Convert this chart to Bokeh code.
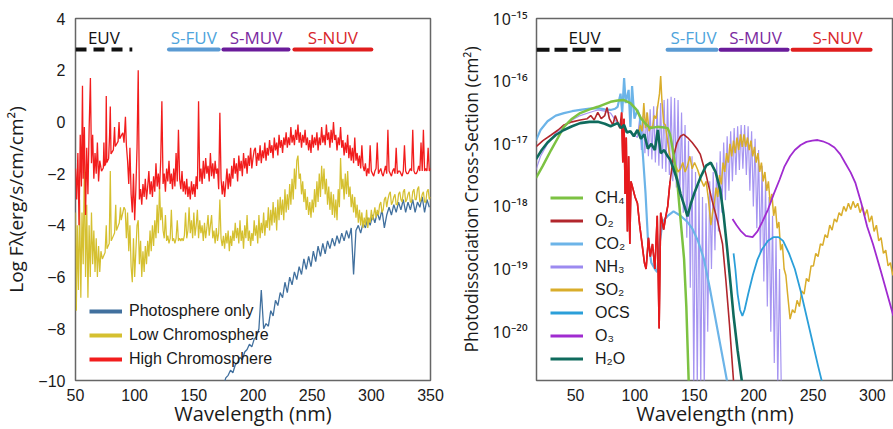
import numpy as np
from bokeh.plotting import figure
from bokeh.models import (Range1d, FixedTicker, CustomJSTickFormatter, Legend, LegendItem)
from bokeh.layouts import row
from bokeh.embed import file_html
from bokeh.resources import INLINE
from bokeh.core.properties import value

# ------------------------------------------------------------------ data
left_xticks = [50, 100, 150, 200, 250, 300, 350]
left_yticks = [-10, -8, -6, -4, -2, 0, 2, 4]
right_xticks = [50, 100, 150, 200, 250, 300]
right_ydecades = [-20, -19, -18, -17, -16, -15]

band_names = ["EUV", "S-FUV", "S-MUV", "S-NUV"]
left_band_lo = [50, 129, 175, 235]
left_band_hi = [98, 171, 230, 300]
left_band_label_x = [74, 150, 202.5, 267.5]
right_band_lo = [17.1, 127.5, 172.2, 232.8]
right_band_hi = [88, 168.8, 228.6, 298.5]
right_band_label_x = [57.6, 149.4, 201.6, 270.7]

# High Chromosphere (log flux)
red_x_a = [50, 51, 52, 53, 54, 55, 55.9, 56.5, 57.5, 58.5, 59.5, 60.5, 61.5, 62.6, 63.5, 64.5,
           65.5, 66.5, 67.5, 68.5, 69.5, 70.5, 72, 73.5, 74, 74.5, 75.5, 76, 76.5, 78, 78.8,
           79.4, 80, 82, 83, 83.6, 86, 86.8, 87.4, 89, 90, 91, 92.2, 93, 94, 95, 96, 97, 98,
           99, 100, 101, 102, 103, 104]
red_y_a = [-1.8, -3.0, -1.2, -4.0, -0.5, -2.5, 1.4, -2.2, -0.2, -3.6, -1.0, -2.8, -0.3, 1.7, -1.6, -0.5,
           -2.2, -1.2, -2.0, -0.8, -2.3, -1.5, -1.9, -1.78, -0.8, -1.7, -1.62, 1.0, -1.57, -1.41, -0.5,
           0.6, -1.24, -1.08, -0.2, -0.95, -0.75, 0.0, -0.65, -0.5, -0.42, -0.8, 0.2, -0.9, -1.5, -2.4, -1.0, -2.8, -3.5,
           -2.0, -3.8, -2.6, -1.0, 2.0, -3.0]
red_y_b = [  # 105 .. 350 nm, 1 nm steps
    -2.6, -3.2, -2.4, -2.9, -2.2, -3.0, -2.5, -1.9, -2.8, -2.3,
    -2.9, -2.1, -2.7, -1.6, -2.5, -2.0, -2.6, -1.5, 0.8, -2.4,
    -2.0, -2.7, -1.8, -2.3, -1.5, -2.4, -2.0, -2.6, -1.8, -2.5,
    -1.2, -2.3, -0.3, -2.2, -2.6, -1.9, -2.7, -2.3, -2.8, -2.2,
    -2.9, -2.5, -3.0, -2.3, -2.8, -2.4, -2.9, -2.1, -2.6, 0.8,
    -2.3, -1.8, -2.4, -1.5, -2.2, -1.4, -2.0, -1.7, -2.3, -1.2,
    -2.1, -1.6, -2.2, -1.5, -2.0, -1.8, -2.6, 0.35, -2.2, -2.8,
    -2.3, -2.9, -2.4, -1.8, -2.6, -2.0, -2.5, -1.7, -2.2, -1.4,
    -2.0, -1.6, -2.3, -1.3, -1.9, -1.5, -2.1, -1.2, -1.8, -1.4,
    -2.0, -1.3, -1.7, -1.0, -1.8, -1.4, -1.1, -1.0, -1.7, -1.2,
    -1.5, -0.9, -1.6, -1.1, -1.4, -0.8, -1.5, -1.0, -1.3, -0.7,
    -1.2, -0.9, -1.4, -0.6, -1.1, -0.8, -1.3, -0.5, -1.0, -0.7,
    -1.2, -0.6, -0.9, -0.4, -1.0, -0.6, -0.9, -0.2, -0.8, -0.5,
    -0.9, -0.3, -0.7, -0.1, -0.8, -0.4, -1.0, -0.5, -0.8, -0.3,
    -0.9, -0.6, -1.1, -0.7, -1.2, -0.5, -1.0, -0.6, -0.9, -0.4,
    -1.1, -0.6, -0.9, -0.2, -0.8, -0.5, -0.9, -0.1, -0.7, -0.4,
    -1.0, -0.3, -0.8, 0.0, -0.7, -0.5, -1.1, -0.6, -0.9, -0.2,
    -1.0, -0.7, -1.3, -0.8, -1.2, -0.5, -1.4, -0.9, -1.5, -1.0,
    -1.6, -0.6, -1.5, -1.2, -1.7, -1.3, -1.8, -0.9, -1.7, -1.9,
    -1.6, -2.1, -1.8, -2.0, -0.9, -1.9, -2.0, -2.1, -1.9, -1.8,
    -0.8, -2.0, -1.9, -1.8, -2.0, -2.1, -1.9, -1.7, -2.0, -0.3,
    -1.9, -2.0, -2.1, -1.9, -1.8, -2.0, -1.0, -2.0, -1.9, -1.9,
    -2.0, -2.1, -1.9, -0.9, -1.9, -2.0, -2.0, -1.9, -1.8, -1.9,
    -0.3, -1.9, -2.0, -2.0, -1.9, -1.7, -1.9, -0.8, -1.9, -0.3,
    -1.9, -1.8, -1.9, -1.0, -1.9, -1.8]

# Low Chromosphere
yel_x_a = [50, 50.7, 51.5, 52.5, 53.5, 54.5, 55.5, 56.5, 57.5, 58.5, 59.5, 60.5, 61.5, 62.5,
           63.5, 64.5, 65.5, 66.5, 67.5, 68.5, 69.5, 70.5, 71.5, 72.7, 75, 76, 76.6, 78.5, 79.4,
           80.2, 83, 84, 84.6, 87, 88, 88.6, 91, 92]
yel_y_a = [-3.5, -7.3, -4.0, -6.5, -3.0, -6.8, -3.5, -5.5, -1.5, -6.0, -3.2, -6.8, -4.0, -6.0,
           -3.5, -5.5, -4.2, -5.8, -4.5, -6.0, -4.8, -5.8, -5.0, -5.3, -5.05, -4.0, -4.9, -4.7, -1.9,
           -4.6, -4.3, -3.2, -4.2, -3.9, -3.3, -3.8, -3.3, -3.4]
yel_y_b = [  # 93 .. 350 nm, 1 nm steps
    -4.5, -3.5, -5.0, -4.0, -5.6, -6.2, -4.5, -6.0, -5.0, -4.0,
    -3.8, -5.5, -4.6, -6.0, -5.0, -5.8, -4.8, -5.5, -4.6, -5.2,
    -4.2, -5.0, -4.0, -4.8, -3.8, -4.5, -3.2, -4.3, -2.5, -3.8,
    -3.3, -4.2, -4.5, -3.6, -4.6, -4.4, -4.7, -4.5, -3.4, -4.6,
    -4.5, -4.7, -4.5, -3.8, -4.6, -4.5, -4.6, -4.5, -4.6, -4.4,
    -3.5, -4.5, -4.2, -3.3, -4.3, -3.8, -4.5, -3.5, -4.4, -4.0,
    -3.4, -4.5, -3.8, -4.3, -4.0, -4.6, -3.9, -4.5, -4.1, -3.6,
    -4.4, -4.0, -3.6, -4.5, -4.2, -4.7, -4.1, -4.6, -4.3, -3.0,
    -4.5, -4.8, -4.4, -4.9, -4.3, -4.7, -4.2, -5.0, -4.4, -4.8,
    -4.2, -4.6, -3.9, -4.5, -4.1, -4.7, -3.8, -4.6, -4.2, -4.9,
    -4.0, -4.5, -3.6, -4.6, -4.2, -4.8, -4.3, -4.6, -3.8, -4.4,
    -4.0, -4.7, -3.6, -4.5, -3.9, -4.3, -3.5, -4.4, -3.8, -4.1,
    -3.3, -4.2, -3.4, -4.0, -3.1, -3.9, -3.3, -4.2, -3.0, -3.8,
    -2.9, -3.6, -3.0, -3.8, -2.6, -3.5, -2.8, -3.4, -2.4, -3.2,
    -2.2, -3.0, -1.8, -2.6, -1.5, -1.3, -2.2, -2.0, -2.8, -2.3,
    -3.1, -2.6, -3.4, -2.9, -3.6, -3.1, -3.7, -3.0, -3.5, -2.6,
    -3.3, -2.3, -3.1, -2.0, -2.9, -1.7, -2.6, -1.8, -2.8, -2.2,
    -3.2, -2.5, -3.4, -2.7, -3.6, -2.8, -3.7, -3.0, -3.8, -2.6,
    -3.3, -1.4, -2.6, -2.2, -3.0, -2.0, -2.8, -1.9, -2.9, -2.5,
    -3.3, -2.8, -3.5, -2.9, -3.7, -3.2, -3.9, -3.4, -4.0, -3.5,
    -4.1, -3.7, -4.0, -3.4, -4.1, -3.7, -3.9, -3.4, -3.8, -3.6,
    -3.3, -3.7, -3.4, -3.6, -3.2, -3.1, -3.5, -3.4, -3.0, -2.9,
    -3.3, -3.0, -2.8, -2.7, -3.2, -3.1, -2.9, -2.8, -3.2, -3.2,
    -2.8, -2.7, -3.0, -3.1, -2.7, -2.6, -3.1, -3.0, -2.8, -2.7,
    -3.1, -3.1, -2.7, -2.6, -3.0, -3.0, -2.6, -2.5, -3.1, -3.0,
    -2.8, -2.7, -3.1, -3.1, -2.7, -2.6, -3.0, -2.9]

# Photosphere only (175 .. 349 nm, 2 nm steps)
blue_y = [
    -10.2, -9.9, -9.8, -9.6, -9.7, -9.4, -9.3, -9.1, -9.2, -8.9,
    -8.8, -8.6, -8.7, -8.4, -8.3, -8.0, -6.5, -8.0, -7.8, -7.9,
    -7.3, -7.5, -6.9, -7.1, -6.6, -6.8, -6.2, -6.6, -6.0, -6.3,
    -5.8, -6.1, -5.6, -5.9, -5.3, -5.7, -5.2, -5.6, -5.0, -5.4,
    -4.8, -5.2, -4.7, -5.1, -4.6, -4.9, -4.5, -4.8, -4.4, -4.7,
    -4.3, -4.6, -4.2, -4.5, -4.1, -5.9, -4.2, -4.0, -4.3, -3.9,
    -4.1, -3.7, -4.0, -3.6, -3.9, -3.5, -3.8, -3.4, -4.1, -3.6,
    -3.3, -3.6, -3.2, -3.5, -3.1, -3.4, -3.0, -3.5, -3.1, -3.4,
    -3.0, -3.5, -3.1, -3.3, -2.9, -3.5, -3.0, -3.3]

# ---- cross sections (wavelength nm, log10 cm^2)
ch4_x = [16.6, 22.5, 29.4, 35.3, 40.2, 47.05, 53.9, 61.8, 68.7, 79.5, 85.4, 90.3, 96.2, 101.1,
         105.0, 108.9, 112.9, 118.8, 124.7, 127.6, 129.6, 131.5, 133.5, 135.5, 138.4, 141.4, 143.3,
         145.3, 146.8]
ch4_y = [-17.55, -17.35, -17.1, -16.9, -16.73, -16.6, -16.51, -16.45, -16.41, -16.33, -16.31, -16.30,
         -16.35, -16.45, -16.59, -16.68, -16.75, -16.73, -16.74, -16.75, -16.85, -17.05, -17.3, -17.57,
         -18.2, -18.84, -19.6, -20.8, -21.5]
o2_x = [16.6, 22.5, 29.4, 35.3, 40.2, 47.05, 53.9, 59.8, 62.8, 65.7, 68.7, 71.6, 74.6, 76.5, 78.5,
        81.4, 83.4, 85.4, 87.3, 88.8, 89.8, 90.8, 91.75, 92.7, 93.7, 94.7, 95.7, 96.7, 98.1, 100.1,
        102.1, 104.0, 106.0, 108.0, 109.4, 111.4, 112.9, 114.8, 116.8, 118.8, 120.4, 121.7, 124.2,
        125.6, 127.6, 129.6, 132.5, 135.5, 138.4, 141.0, 144.3, 148.2, 152.2, 155.1, 160.0, 164.9,
        169.8, 173.8, 176.7, 179.7, 183.1, 185.1]
o2_y = [-17.05, -16.95, -16.86, -16.78, -16.7, -16.65, -16.62, -16.6, -16.55, -16.62, -16.5, -16.6,
        -16.55, -16.42, -16.6, -16.7, -16.55, -16.65, -16.75, -16.5, -17.3, -16.6, -17.8, -16.9, -18.4,
        -17.2, -18.6, -17.6, -17.7, -17.85, -17.95, -18.3, -18.6, -18.9, -19.0, -18.5, -18.8, -18.6,
        -19.0, -18.15, -19.95, -18.1, -18.37, -18.2, -18.0, -17.6, -17.2, -16.98, -16.88, -16.85,
        -16.9, -16.98, -17.08, -17.17, -17.5, -17.9, -18.25, -18.6, -19.2, -19.9, -20.8, -21.3]
o2_bright_range = [88.8, 129.6]
co2_x = [16.6, 20.5, 26.4, 33.3, 40.2, 47.05, 53.9, 61.8, 68.7, 74.6, 79.5, 83.4, 85.4, 87.9, 89.3,
         90.9, 92.2, 94.7, 96.2, 97.6, 99.6, 102.1, 104.0, 106.0, 108.9, 110.9, 113.8, 116.8, 118.8,
         120.7, 123.3, 127.6, 132.5, 138.4, 144.3, 148.2, 153.1, 158.1, 163.0, 167.9, 172.8, 177.7,
         179.7]
co2_y = [-16.95, -16.78, -16.64, -16.55, -16.51, -16.48, -16.46, -16.44, -16.43, -16.45, -16.46, -16.44,
         -16.41, -16.2, -16.5, -15.95, -16.35, -16.14, -16.73, -16.08, -16.6, -16.46, -16.55, -16.98,
         -17.78, -18.5, -18.9, -19.0, -19.05, -18.6, -18.25, -18.15, -18.08, -18.15, -18.25, -18.35,
         -18.55, -18.84, -19.3, -19.8, -20.3, -20.8, -21.0]
nh3_x_smooth = [16.6, 20.5, 26.4, 33.3, 40.2, 47.05, 53.9, 61.8, 68.7, 74.6, 79.5, 84.4, 89.3, 94.2,
                99.1, 102.1]
nh3_y_smooth = [-17.42, -17.2, -17.0, -16.83, -16.73, -16.62, -16.55, -16.5, -16.46, -16.48, -16.51,
                -16.65, -16.75, -16.8, -16.85, -16.9]
nh3_y_band1 = [  # from 104 nm, 1.47 nm steps
    -16.6, -17.1, -16.55, -17.15, -16.5, -17.2, -16.45, -17.25, -16.4, -17.3,
    -16.4, -17.35, -16.35, -17.4, -16.3, -17.45, -16.28, -17.5, -16.25, -17.6,
    -16.27, -17.7, -16.3, -17.85, -16.5, -18.1, -16.7, -18.5, -16.95, -19.3,
    -17.2, -20.9, -17.45, -20.9, -17.65, -20.9, -17.85, -20.9, -17.95, -20.0]
nh3_y_band2 = [  # from 163 nm, 1.47 nm steps
    -17.6, -19.0, -17.45, -18.7, -17.3, -18.4, -17.12, -18.1, -16.98, -17.9,
    -16.88, -17.75, -16.8, -17.6, -16.75, -17.5, -16.72, -17.42, -16.7, -17.4,
    -16.7, -17.5, -16.72, -17.75, -16.8, -18.0, -16.92, -18.35, -17.1, -18.75,
    -17.35, -19.2, -17.6, -19.6, -17.85, -20.0, -18.15, -20.5, -18.5, -20.9,
    -19.0, -20.9]
so2_x_a = [103.0, 104.5, 106.0, 107.5, 108.9, 110.4, 111.9, 113.4, 114.8, 116.3, 117.8, 119.2, 120.7,
           121.7, 122.7, 124.2, 125.6, 127.1, 128.6, 130.5, 132.5, 134.5, 136.4, 138.4, 140.3, 142.3,
           144.3, 146.3, 148.2, 150.2, 152.8, 155.1, 158.1, 160.0, 162.0, 164.0]
so2_y_a = [-16.85, -16.7, -16.8, -16.35, -16.75, -16.5, -16.8, -16.72, -16.75, -16.55, -16.6, -16.4,
           -16.2, -15.92, -16.3, -16.67, -16.7, -16.9, -17.1, -17.3, -17.41, -17.35, -17.45, -17.4,
           -17.3, -17.45, -17.35, -17.2, -17.4, -17.3, -17.41, -17.55, -17.68, -17.6, -17.9, -18.3]
so2_y_b = [  # from 165.4 nm, 1.47 nm steps
    -18.1, -17.95, -17.7, -17.85, -17.5, -17.65, -17.3, -17.45, -17.15, -17.3,
    -17.0, -17.2, -16.95, -17.15, -16.9, -17.1, -16.85, -17.05, -16.85, -17.05,
    -16.9, -17.1, -16.95, -17.2, -17.05, -17.3, -17.15, -17.45, -17.3, -17.6,
    -17.45, -17.75, -17.6, -17.95, -17.8, -18.15, -18.0, -18.35, -18.25, -18.7,
    -18.6, -19.0, -19.1, -19.4]
so2_y_c = [  # from 230.7 nm, 1.965 nm steps
    -19.8, -19.65, -19.7, -19.5, -19.6, -19.35, -19.4, -19.15, -19.2, -18.95,
    -18.95, -18.75, -18.8, -18.6, -18.62, -18.45, -18.5, -18.3, -18.38, -18.2,
    -18.25, -18.1, -18.15, -18.0, -18.08, -17.95, -18.05, -17.92, -18.02, -17.95,
    -18.1, -18.0, -18.15, -18.05, -18.25, -18.15, -18.4, -18.3, -18.55, -18.5,
    -18.75, -18.7, -18.95, -18.9, -19.1, -19.0]
ocs_x = [183.1, 184.6, 186.5, 188.5, 190.5, 192.4, 195.4, 199.3, 203.2, 207.2, 212.1, 217.0, 220.9,
         224.8, 229.8, 234.7, 239.6, 244.5, 249.4, 254.3, 258.2, 260.2]
ocs_y = [-18.75, -19.0, -19.4, -19.65, -19.75, -19.65, -19.4, -19.1, -18.85, -18.68, -18.55, -18.49,
         -18.49, -18.55, -18.75, -19.0, -19.35, -19.75, -20.15, -20.55, -20.85, -21.0]
o3_x = [182.2, 185.6, 189.5, 193.4, 199.1, 203.2, 207.2, 212.1, 217.0, 221.9, 225.8, 230.7, 234.7,
        239.6, 244.5, 249.4, 253.9, 258.2, 263.2, 268.1, 273.0, 276.9, 281.8, 285.8, 290.7, 295.6,
        300.5, 307.4, 313.3, 317.7]
o3_y = [-18.2, -18.3, -18.4, -18.47, -18.49, -18.4, -18.25, -18.05, -17.8, -17.57, -17.37, -17.2,
        -17.1, -17.02, -16.97, -16.95, -16.94, -16.96, -17.0, -17.06, -17.17, -17.3, -17.46, -17.63,
        -17.95, -18.32, -18.6, -19.05, -19.45, -19.75]
h2o_x = [16.6, 21.5, 26.4, 33.3, 40.2, 47.05, 53.9, 61.8, 68.7, 74.6, 79.5, 85.4, 88.3, 90.9, 93.2,
         96.2, 99.1, 102.1, 105.0, 108.0, 110.9, 113.8, 116.8, 119.3, 121.7, 124.7, 127.6, 129.6,
         132.5, 135.5, 138.4, 141.8, 144.3, 147.2, 150.2, 155.6, 160.0, 163.9, 167.9, 171.8, 174.8,
         177.7, 180.6, 183.1, 186.5, 190.5, 192.4]
h2o_y = [-17.25, -17.1, -16.98, -16.86, -16.78, -16.72, -16.67, -16.65, -16.65, -16.68, -16.72,
         -16.67, -16.75, -16.7, -16.82, -16.8, -16.88, -16.78, -16.92, -16.85, -17.08, -17.0, -17.1,
         -16.78, -17.15, -17.1, -17.2, -17.25, -17.4, -17.57, -17.8, -18.0, -18.16, -17.95, -17.78,
         -17.52, -17.35, -17.3, -17.45, -17.73, -18.15, -18.68, -19.25, -19.75, -20.3, -20.85, -21.1]

# ------------------------------------------------------------------ assemble series
red_x = red_x_a + list(105 + np.arange(len(red_y_b)))
red_y = red_y_a + red_y_b
yel_x = yel_x_a + list(93 + np.arange(len(yel_y_b)))
yel_y = yel_y_a + yel_y_b
blue_x = list(175 + 2 * np.arange(len(blue_y)))

nh3_x = (nh3_x_smooth + list(104 + 1.47 * np.arange(len(nh3_y_band1)))
         + list(163 + 1.47 * np.arange(len(nh3_y_band2))))
nh3_y = nh3_y_smooth + nh3_y_band1 + nh3_y_band2
so2_x = (so2_x_a + list(165.4 + 1.47 * np.arange(len(so2_y_b)))
         + list(230.7 + 1.965 * np.arange(len(so2_y_c))))
so2_y = so2_y_a + so2_y_b + so2_y_c


def lin(v):
    return list(10.0 ** np.array(v, dtype=float))


NAN = [float("nan")]

# ------------------------------------------------------------------ styles
TICK_FONT = "Liberation Sans"
SUP_FONT = "Noto Sans"
LABEL_FONT = "Open Sans"
BAND_LINE = ["#111111", "#5b9bd3", "#6a1b9a", "#e01e1e"]
BAND_TEXT = ["#111111", "#4ea4dc", "#7a2aa0", "#d8262b"]

C_BLUE, C_YEL, C_RED = "#41709e", "#d5c030", "#f21d1d"
C_CH4, C_O2, C_O2B, C_CO2 = "#7cc242", "#b2262c", "#e8191c", "#6cb4e8"
C_NH3, C_SO2, C_OCS, C_O3, C_H2O = "#9c8af0", "#d9ad2b", "#2b9fd9", "#a02bd0", "#0f6b5d"


def style(p):
    p.xgrid.visible = False
    p.ygrid.visible = False
    p.outline_line_color = "#666666"
    p.outline_line_width = 1.5
    p.background_fill_color = "white"
    p.border_fill_color = "white"
    for ax in (p.xaxis[0], p.yaxis[0]):
        ax.axis_line_color = None
        ax.major_tick_line_color = None
        ax.minor_tick_line_color = None
        ax.major_tick_out = 0
        ax.major_tick_in = 0
        ax.major_label_text_font = TICK_FONT
        ax.major_label_text_font_size = "16px"
        ax.major_label_text_color = "#1a1a1a"
        ax.axis_label_text_font = LABEL_FONT
        ax.axis_label_text_font_style = "normal"
        ax.axis_label_text_color = "#1a1a1a"
    p.xaxis.major_label_standoff = 8
    p.xaxis.axis_label = "Wavelength (nm)"
    p.xaxis.axis_label_text_font_size = "20px"
    p.xaxis.axis_label_standoff = -4


# ------------------------------------------------------------------ left panel
p1 = figure(width=448, height=429, x_range=Range1d(50, 350), y_range=Range1d(-10, 4),
            output_backend="svg", toolbar_location=None,
            min_border_left=73, min_border_right=18, min_border_top=18, min_border_bottom=47)
style(p1)
p1.xaxis.ticker = FixedTicker(ticks=left_xticks)
p1.yaxis.ticker = FixedTicker(ticks=left_yticks)
p1.yaxis.formatter = CustomJSTickFormatter(
    code="return tick < 0 ? '\u2212' + Math.abs(tick) : String(tick);")
p1.yaxis.axis_label = "Log F\u03bb(erg/s/cm/cm\u00b2)"
p1.yaxis.axis_label_text_font_size = "19px"
p1.yaxis.axis_label_standoff = 6
p1.yaxis.major_label_standoff = 10

p1.line(blue_x, blue_y, line_color=C_BLUE, line_width=1.3)
p1.line(yel_x, yel_y, line_color=C_YEL, line_width=1.25)
p1.line(red_x, red_y, line_color=C_RED, line_width=1.3)

for i in range(4):
    p1.line([left_band_lo[i], left_band_hi[i]], [2.8, 2.8], line_color=BAND_LINE[i],
            line_width=4, line_cap="butt" if i == 0 else "round",
            line_dash="11 7" if i == 0 else "solid")
p1.text(x=left_band_label_x, y=[3.28] * 4, text=band_names, text_color=BAND_TEXT,
        text_font=value(LABEL_FONT), text_font_size="17px", text_align="center",
        text_baseline="middle")

leg1 = []
for lab, c in zip(["Photosphere only", "Low Chromosphere", "High Chromosphere"],
                  [C_BLUE, C_YEL, C_RED]):
    r = p1.line(x=NAN, y=NAN, line_color=c, line_width=4)
    leg1.append(LegendItem(label=lab, renderers=[r]))
legend1 = Legend(items=leg1, location=(14, 11), padding=0, margin=0, spacing=4,
                 glyph_width=33, glyph_height=20, label_height=20, label_standoff=7,
                 label_text_font=TICK_FONT, label_text_font_size="16px",
                 label_text_color="#1a1a1a",
                 background_fill_alpha=0, border_line_alpha=0)
p1.add_layout(legend1)

# ------------------------------------------------------------------ right panel
p2 = figure(width=445, height=429, x_range=Range1d(17.1, 317.8),
            y_range=Range1d(10 ** -20.78, 1.0005e-15), y_axis_type="log",
            output_backend="svg", toolbar_location=None,
            min_border_left=88, min_border_right=0, min_border_top=18, min_border_bottom=47)
style(p2)
p2.xaxis.ticker = FixedTicker(ticks=right_xticks)
p2.yaxis.ticker = FixedTicker(ticks=[10.0 ** d for d in right_ydecades])
p2.yaxis.formatter = CustomJSTickFormatter(code="""
const e = Math.round(Math.log10(tick));
const m = {'-':'\u207b','0':'\u2070','1':'\u00b9','2':'\u00b2','3':'\u00b3','4':'\u2074',
           '5':'\u2075','6':'\u2076','7':'\u2077','8':'\u2078','9':'\u2079'};
return '10' + String(e).split('').map(c => m[c]).join('');
""")
p2.yaxis.major_label_text_font = SUP_FONT
p2.yaxis.major_label_text_font_size = "16px"
p2.yaxis.axis_label = "Photodissociation Cross-Section (cm\u00b2)"
p2.yaxis.axis_label_text_font_size = "17.5px"
p2.yaxis.axis_label_standoff = 7
p2.yaxis.major_label_standoff = 9

p2.line(nh3_x, lin(nh3_y), line_color=C_NH3, line_width=1.2, line_alpha=0.9)
p2.line(co2_x, lin(co2_y), line_color=C_CO2, line_width=2.2)
p2.line(so2_x, lin(so2_y), line_color=C_SO2, line_width=1.5)
p2.line(o2_x, lin(o2_y), line_color=C_O2, line_width=1.6)
o2_mask = [(o2_bright_range[0] <= x <= o2_bright_range[1]) for x in o2_x]
p2.line([x for x, m in zip(o2_x, o2_mask) if m], lin([y for y, m in zip(o2_y, o2_mask) if m]),
        line_color=C_O2B, line_width=1.6)
p2.line(ch4_x, lin(ch4_y), line_color=C_CH4, line_width=2.5)
p2.line(ocs_x, lin(ocs_y), line_color=C_OCS, line_width=1.8)
p2.line(o3_x, lin(o3_y), line_color=C_O3, line_width=1.8)
p2.line(h2o_x, lin(h2o_y), line_color=C_H2O, line_width=2.6)

band_y_r = 10 ** -15.5
for i in range(4):
    p2.line([right_band_lo[i], right_band_hi[i]], [band_y_r, band_y_r], line_color=BAND_LINE[i],
            line_width=4, line_cap="butt" if i == 0 else "round",
            line_dash="13 5" if i == 0 else "solid")
p2.text(x=right_band_label_x, y=[10 ** -15.31] * 4, text=band_names, text_color=BAND_TEXT,
        text_font=value(LABEL_FONT), text_font_size="17px", text_align="center",
        text_baseline="middle")

leg2 = []
for lab, c in zip(["CH\u2084", "O\u2082", "CO\u2082", "NH\u2083", "SO\u2082", "OCS", "O\u2083", "H\u2082O"],
                  [C_CH4, C_O2, C_CO2, C_NH3, C_SO2, C_OCS, C_O3, C_H2O]):
    r = p2.line(x=NAN, y=NAN, line_color=c, line_width=3)
    leg2.append(LegendItem(label=lab, renderers=[r]))
legend2 = Legend(items=leg2, location=(14, 12), padding=0, margin=0, spacing=4,
                 glyph_width=33, glyph_height=19, label_height=19, label_standoff=12,
                 label_text_font=TICK_FONT, label_text_font_size="16px",
                 label_text_color="#1a1a1a",
                 background_fill_alpha=0, border_line_alpha=0)
p2.add_layout(legend2)

layout = row(p1, p2)
open("out.html", "w").write(file_html(layout, INLINE))
